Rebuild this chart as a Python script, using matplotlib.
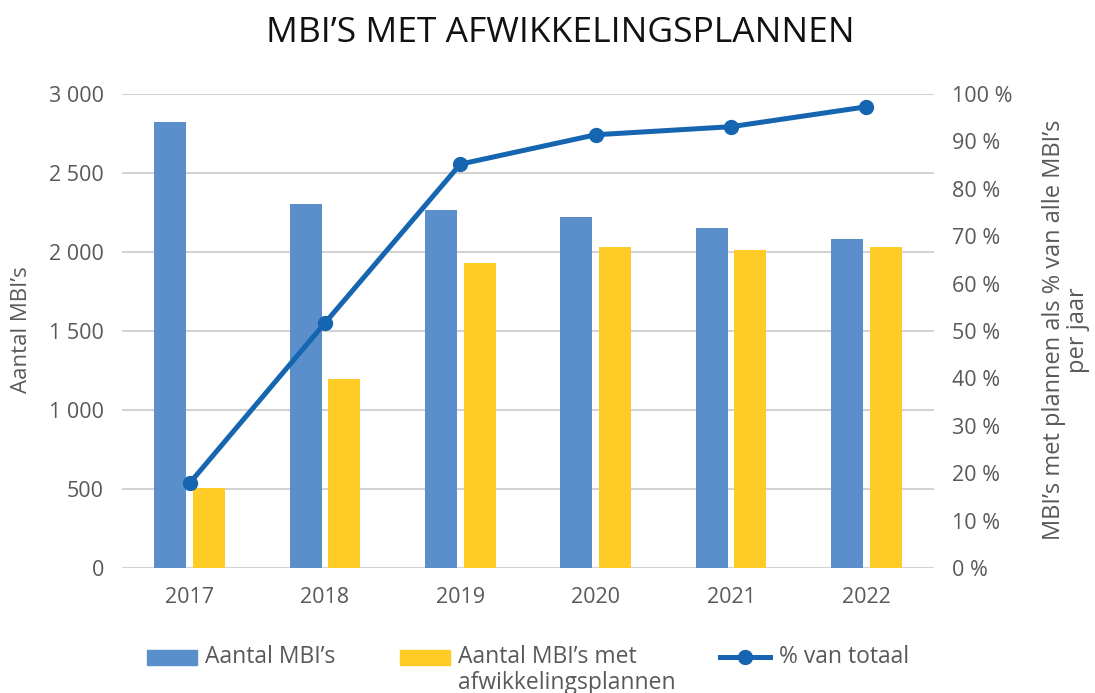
import matplotlib
matplotlib.use("Agg")
import matplotlib.pyplot as plt
from matplotlib.patches import Rectangle
from matplotlib.lines import Line2D
import numpy as np

plt.rcParams['font.family'] = ['Open Sans', 'DejaVu Sans']

years = ["2017", "2018", "2019", "2020", "2021", "2022"]
aantal = [2820, 2305, 2265, 2220, 2155, 2082]
aantal_plannen = [504, 1196, 1932, 2030, 2013, 2030]
pct_totaal = [17.9, 51.7, 85.2, 91.4, 93.1, 97.3]

c_blue = "#5B8FCB"
c_yellow = "#FFCB27"
c_line = "#1565B0"
c_text = "#595959"
c_grid = "#D3D3D3"

W, H = 1095, 693
fig = plt.figure(figsize=(W / 100, H / 100), dpi=100)
ax = fig.add_axes([122 / W, 1 - 568 / H, (934 - 122) / W, (568 - 94) / H])
ax2 = ax.twinx()

x = np.arange(len(years))
bw = 0.236
off = 0.143
ax.bar(x - off, aantal, width=bw, color=c_blue, zorder=2)
ax.bar(x + off, aantal_plannen, width=bw, color=c_yellow, zorder=2)

ax.set_xlim(-0.5, len(years) - 0.5)
ax.set_ylim(0, 3000)
ax.set_yticks(np.arange(0, 3001, 500))
ax.set_yticklabels([f"{v:,}".replace(",", " ") for v in range(0, 3001, 500)])
ax.set_xticks(x)
ax.set_xticklabels(years)
ax.yaxis.grid(True, color=c_grid, linewidth=1.5, zorder=0)
ax.set_axisbelow(True)
for s in ax.spines.values():
    s.set_visible(False)
for s in ax2.spines.values():
    s.set_visible(False)
ax.tick_params(axis='both', length=0, labelsize=15.5, labelcolor=c_text)
ax.tick_params(axis='y', pad=13)
ax.tick_params(axis='x', pad=14)

ax2.plot(x, pct_totaal, color=c_line, linewidth=3.6, marker='o', markersize=10, zorder=5)
ax2.set_ylim(0, 100)
ax2.set_yticks(np.arange(0, 101, 10))
ax2.set_yticklabels([f"{v} %" for v in range(0, 101, 10)])
ax2.tick_params(axis='y', length=0, labelsize=15.5, labelcolor=c_text, pad=13)

fig.text(22 / W, 1 - 330 / H, "Aantal MBI’s", rotation=90, ha='center', va='center',
         fontsize=16, color=c_text)
fig.text(1066 / W, 1 - 330 / H, "MBI’s met plannen als % van alle MBI’s\nper jaar",
         rotation=90, ha='center', va='center', fontsize=17, color=c_text,
         multialignment='center', linespacing=1.05)

fig.text(560 / W, 1 - 33 / H, "MBI’S MET AFWIKKELINGSPLANNEN", ha='center', va='center',
         fontsize=25.5, color="#111111")

# legend
ly = 1 - 657 / H
fig.add_artist(Rectangle((147 / W, 1 - 665 / H), 50 / W, 15 / H, color=c_blue,
                         transform=fig.transFigure))
fig.text(205 / W, ly, "Aantal MBI’s", ha='left', va='center', fontsize=16.5, color=c_text)
fig.add_artist(Rectangle((400 / W, 1 - 665 / H), 50 / W, 15 / H, color=c_yellow,
                         transform=fig.transFigure))
fig.text(458 / W, 1 - 670 / H, "Aantal MBI’s met\nafwikkelingsplannen", ha='left', va='center',
         fontsize=16.5, color=c_text, linespacing=1.1)
fig.add_artist(Line2D([720 / W, 770 / W], [ly, ly], color=c_line, linewidth=3.6,
                      transform=fig.transFigure))
fig.add_artist(Line2D([745 / W], [ly], color=c_line, marker='o', markersize=10,
                      transform=fig.transFigure))
fig.text(779 / W, ly, "% van totaal", ha='left', va='center', fontsize=16.5, color=c_text)

fig.savefig("out.png", dpi=100)
